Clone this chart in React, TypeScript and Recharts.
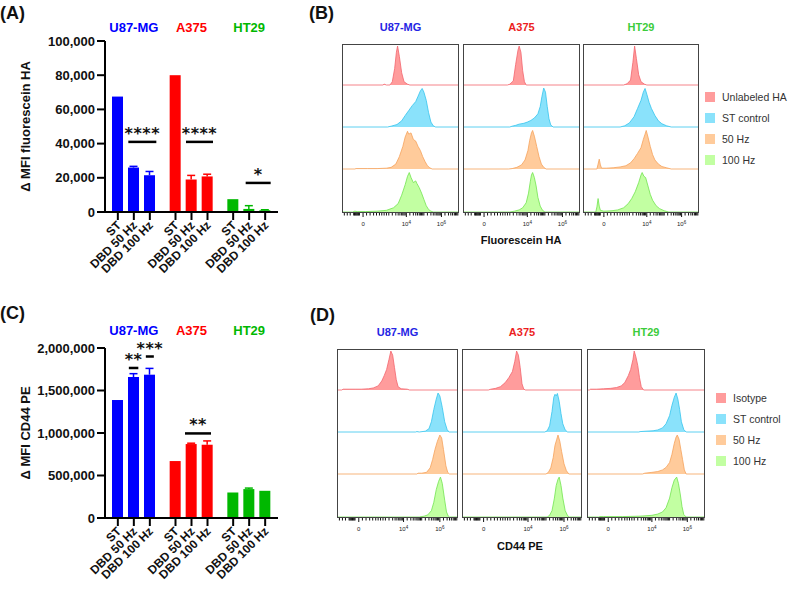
import React from 'react';
import { Area, AreaChart, Bar, BarChart, ReferenceLine, XAxis, YAxis } from 'recharts';

const FONT = '"Liberation Sans", Arial, sans-serif';

const CELL_LINES = ['U87-MG', 'A375', 'HT29'];
const TREATMENTS = ['ST', 'DBD 50 Hz', 'DBD 100 Hz'];

// (A) Δ MFI fluorescein HA
const HA_ST = [67500, 80000, 7500];
const HA_50 = [26000, 19000, 1800];
const HA_100 = [21500, 20800, 1000];
const HA_ST_ERR = [0, 0, 0];
const HA_50_ERR = [700, 2400, 1900];
const HA_100_ERR = [2200, 1300, 300];
const HA_TICKS = [0, 20000, 40000, 60000, 80000, 100000];

// (C) Δ MFI CD44 PE
const CD44_ST = [1388000, 670000, 300000];
const CD44_50 = [1659000, 870000, 340000];
const CD44_100 = [1686000, 862000, 320000];
const CD44_ST_ERR = [0, 0, 0];
const CD44_50_ERR = [39000, 10000, 12000];
const CD44_100_ERR = [74000, 45000, 5000];
const CD44_TICKS = [0, 500000, 1000000, 1500000, 2000000];

type Sig = { line: string; y: number; from: number; to: number; text: string };
const HA_SIG: Sig[] = [
  { line: 'U87-MG', y: 41000, from: -5.5, to: 22.5, text: '****' },
  { line: 'A375', y: 41000, from: -5.5, to: 21.5, text: '****' },
  { line: 'HT29', y: 17000, from: -3.5, to: 21.5, text: '*' },
];
const CD44_SIG: Sig[] = [
  { line: 'U87-MG', y: 1765000, from: -5, to: 4.5, text: '**' },
  { line: 'U87-MG', y: 1900000, from: 12, to: 20, text: '***' },
  { line: 'A375', y: 995000, from: -6.5, to: 19.5, text: '**' },
];

// flow histograms: [channel, % of row height]
const HA_U87 = [
  [[0, 0], [35, 0], [36, 2], [38, 0], [41, 0], [43, 8], [45, 40], [46.5, 80], [47.5, 95], [49, 70], [51, 30], [53, 8], [56, 2], [58, 0], [100, 0]],
  [[0, 0], [39, 0], [42, 2], [47, 6], [51, 15], [54, 28], [57, 40], [60, 52], [63, 62], [65, 75], [67, 88], [68.5, 94], [70, 85], [72, 65], [74, 35], [76, 12], [78, 3], [80, 0], [100, 0]],
  [[0, 0], [11, 0], [12, 1], [22, 1], [30, 1], [38, 2], [42, 4], [46, 12], [49, 30], [52, 55], [54, 78], [56, 92], [57, 85], [59, 88], [61, 72], [63, 68], [65, 55], [67, 45], [69, 30], [71, 18], [73, 8], [75, 3], [77, 0], [100, 0]],
  [[0, 0], [9, 0], [11, 2], [13, 1], [20, 1], [30, 2], [38, 4], [44, 10], [48, 20], [51, 40], [54, 65], [56, 85], [57.5, 94], [59, 82], [61, 70], [63, 74], [64, 68], [66, 58], [68, 45], [70, 30], [72, 15], [74, 6], [76, 2], [78, 0], [100, 0]],
];
const HA_A375 = [
  [[0, 0], [38, 0], [40, 2], [43, 10], [45, 50], [47, 85], [48, 95], [49.5, 80], [51, 35], [52.5, 8], [54, 0], [100, 0]],
  [[0, 0], [40, 0], [42, 2], [45, 4], [48, 7], [52, 9], [55, 12], [58, 16], [61, 22], [64, 32], [66, 50], [67.5, 75], [69, 95], [70.5, 85], [72, 50], [73.5, 20], [75, 5], [77, 0], [100, 0]],
  [[0, 0], [39, 0], [42, 1], [46, 4], [50, 10], [53, 22], [55.5, 45], [57, 70], [58.5, 88], [59.5, 94], [61, 80], [63, 55], [65, 30], [67, 12], [69, 4], [71, 0], [100, 0]],
  [[0, 0], [40, 0], [44, 2], [48, 5], [51, 10], [54, 22], [56, 45], [57.5, 72], [58.5, 88], [59.5, 94], [61, 82], [62.5, 62], [64, 35], [66, 14], [68, 4], [70, 0], [100, 0]],
];
const HA_HT29 = [
  [[0, 0], [35, 0], [38, 3], [41, 12], [43, 55], [44.5, 95], [46, 65], [48, 25], [50, 8], [53, 2], [55, 0], [100, 0]],
  [[0, 0], [32, 0], [36, 3], [40, 10], [44, 25], [47, 45], [50, 65], [52, 85], [53.5, 94], [55, 80], [57, 60], [59, 45], [62, 28], [65, 15], [68, 8], [72, 3], [76, 0], [100, 0]],
  [[0, 0], [12, 0], [13, 12], [14, 24], [15, 10], [16, 2], [20, 2], [26, 3], [32, 5], [37, 8], [41, 15], [44, 25], [47, 38], [50, 52], [52, 72], [53.5, 85], [54.5, 94], [56, 78], [58, 55], [60, 35], [62, 22], [65, 12], [68, 6], [72, 3], [76, 0], [100, 0]],
  [[0, 0], [11, 0], [12, 12], [13, 32], [14, 14], [15, 4], [18, 2], [25, 3], [30, 5], [35, 10], [39, 20], [42, 32], [45, 48], [48, 70], [50, 88], [51, 94], [52.5, 85], [54, 82], [56, 62], [58, 42], [60, 28], [63, 15], [66, 8], [70, 3], [74, 0], [100, 0]],
];
const CD44_U87 = [
  [[0, 0], [4, 0], [5, 2], [10, 2], [15, 2], [20, 2], [26, 3], [30, 5], [34, 10], [37, 22], [39, 35], [41, 50], [43, 75], [44.5, 95], [46, 85], [47.5, 55], [49, 25], [50.5, 8], [53, 3], [58, 2], [60, 0], [100, 0]],
  [[0, 0], [65, 0], [66, 1], [68, 0], [73, 2], [76, 8], [78, 25], [80, 55], [82, 80], [83.5, 95], [85, 88], [87, 60], [89, 25], [91, 6], [92.5, 0], [100, 0]],
  [[0, 0], [66, 0], [67, 2], [70, 2], [74, 4], [77, 15], [79, 35], [81, 60], [83, 80], [85, 95], [86.5, 88], [88, 60], [90, 20], [91.5, 4], [93, 0], [100, 0]],
  [[0, 0], [68, 0], [72, 2], [75, 5], [78, 15], [80, 35], [82, 65], [84, 85], [85.5, 95], [87, 80], [89, 40], [90.5, 12], [92, 2], [93, 0], [100, 0]],
];
const CD44_A375 = [
  [[0, 0], [22, 0], [24, 2], [28, 4], [32, 8], [36, 18], [39, 30], [42, 45], [44, 70], [45.5, 95], [47, 85], [48.5, 55], [50, 15], [51.5, 2], [53, 0], [100, 0]],
  [[0, 0], [69, 0], [71, 3], [73, 15], [75, 50], [76.5, 85], [77.5, 92], [78.5, 88], [79.5, 94], [81, 75], [82.5, 45], [84, 20], [86, 5], [88, 0], [100, 0]],
  [[0, 0], [70, 0], [72, 4], [74, 15], [76, 40], [77.5, 70], [79, 85], [80, 95], [81.5, 80], [83, 55], [85, 25], [87, 8], [89, 0], [100, 0]],
  [[0, 0], [71, 0], [73, 4], [75, 15], [77, 45], [78.5, 75], [80, 90], [81, 95], [82.5, 75], [84, 45], [86, 15], [88, 3], [89.5, 0], [100, 0]],
];
const CD44_HT29 = [
  [[0, 0], [2, 0], [3, 2], [8, 2], [14, 3], [20, 4], [25, 6], [29, 10], [32, 18], [35, 35], [37, 50], [39, 75], [40, 95], [41.5, 80], [43, 60], [44.5, 30], [46, 8], [48, 0], [100, 0]],
  [[0, 0], [44, 0], [45, 1], [50, 2], [56, 3], [60, 5], [64, 10], [67, 20], [70, 40], [72, 65], [74, 85], [75.5, 95], [77, 80], [78.5, 55], [80, 25], [82, 6], [84, 0], [100, 0]],
  [[0, 0], [47, 0], [49, 2], [55, 4], [60, 6], [64, 10], [67, 16], [70, 28], [72, 48], [74, 75], [75.5, 90], [76.5, 95], [78, 85], [79.5, 60], [81, 35], [82.5, 10], [84, 0], [100, 0]],
  [[0, 0], [10, 0], [11, 1], [14, 1], [30, 1], [45, 2], [55, 4], [60, 7], [64, 12], [67, 22], [70, 45], [72, 70], [74, 88], [76, 95], [77.5, 80], [79, 55], [80.5, 25], [82, 6], [84, 0], [100, 0]],
];

const HA_LEGEND = ['Unlabeled HA', 'ST control', '50 Hz', '100 Hz'];
const CD44_LEGEND = ['Isotype', 'ST control', '50 Hz', '100 Hz'];

const HIST_MINOR = [2, 4.5, 7, 10, 10.7, 11.4, 12.1, 12.8, 13.5, 14.2, 14.9, 21, 24, 27, 29.5, 32, 34, 36, 38, 40, 43, 46, 48, 49.5, 51, 52, 53, 54,
  58, 61, 63, 64.5, 66, 67, 68, 69, 70, 73, 76, 78, 79.5, 81, 82, 83, 84, 88, 91, 93, 94.5, 96, 97, 98, 99];
const HIST_MAJOR = [18, 55, 85];
const HIST_MAJOR_BASE = ['0', '10', '10'];
const HIST_MAJOR_EXP = ['', '4', '6'];

const LINE_COLORS: Record<string, string> = { 'U87-MG': '#0000ff', A375: '#ff0000', HT29: '#00b800' };
const TITLE_COLORS: Record<string, string> = { 'U87-MG': '#2424e4', A375: '#ec1e1e', HT29: '#3ccc3c' };
const HIST_COLORS = [
  { fill: '#ff9c9c', stroke: '#f2656d' },
  { fill: '#8ae2fb', stroke: '#35c4ee' },
  { fill: '#ffcb9b', stroke: '#f5a25c' },
  { fill: '#c2ffa2', stroke: '#72e350' },
];

const BAR_STEP = 16;

function barShape(valueKey: string, errKey: string) {
  return (props: any) => {
    const { x, y, width, height, payload } = props;
    const color = LINE_COLORS[payload.name];
    const value = payload[valueKey];
    const err = payload[errKey];
    const errPx = value ? (height * err) / value : 0;
    const cx = x + width / 2;
    return (
      <g>
        <rect x={x} y={y} width={width} height={height} fill={color} />
        {errPx > 0.5 && (
          <g stroke={color} strokeWidth={1.5}>
            <line x1={cx} x2={cx} y1={y} y2={y - errPx} />
            <line x1={cx - 4} x2={cx + 4} y1={y - errPx} y2={y - errPx} />
          </g>
        )}
      </g>
    );
  };
}

function sigShape(s: Sig) {
  return (p: any) => {
    const x1 = p.x1 + s.from;
    const x2 = p.x1 + s.to;
    const y = p.y1;
    return (
      <g>
        <line x1={x1} x2={x2} y1={y} y2={y} stroke="#000" strokeWidth={2.5} />
        <text x={(x1 + x2) / 2} y={y - 3} textAnchor="middle" fontFamily="DejaVu Sans" fontWeight={700}
          fontSize={16} letterSpacing={0.5} fill="#111">{s.text}</text>
      </g>
    );
  };
}

function catTick(titleDy: number) {
  return (p: any) => {
    const name = p.payload.value;
    return (
      <g>
        {TREATMENTS.map((t, k) => {
          const cx = p.x + (k - 1) * BAR_STEP;
          const tx = cx + 4;
          const ty = p.y + 14;
          return (
            <g key={t}>
              <line x1={cx} x2={cx} y1={p.y} y2={p.y + 8} stroke="#000" strokeWidth={2} />
              <text x={tx} y={ty} transform={`rotate(-45 ${tx} ${ty})`} textAnchor="end" fontFamily={FONT}
                fontWeight={700} fontSize={12} fill="#111">{t}</text>
            </g>
          );
        })}
        <text x={p.x} y={p.y - titleDy} textAnchor="middle" fontFamily={FONT} fontWeight={700} fontSize={13}
          fill={LINE_COLORS[name]}>{name}</text>
      </g>
    );
  };
}

type PanelProps = {
  top: number; height: number; plotTop: number; plotBottom: number; titleDy: number;
  st: number[]; d50: number[]; d100: number[]; stErr: number[]; d50Err: number[]; d100Err: number[];
  ticks: number[]; yTitle: string; sigs: Sig[];
};

function MfiPanel(props: PanelProps) {
  const { top, height, plotTop, plotBottom, titleDy, ticks, yTitle, sigs } = props;
  const data = CELL_LINES.map((name, i) => ({
    name,
    st: props.st[i], d50: props.d50[i], d100: props.d100[i],
    stErr: props.stErr[i], d50Err: props.d50Err[i], d100Err: props.d100Err[i],
  }));
  return (
    <div style={{ position: 'absolute', left: 0, top }}>
      <BarChart width={290} height={height} data={data} barSize={11} barGap={5}
        margin={{ top: plotTop, right: 12, left: 0, bottom: 0 }}>
        <XAxis dataKey="name" height={height - plotBottom} tickSize={0} tickMargin={0} tickLine={false}
          axisLine={{ stroke: '#000', strokeWidth: 2 }} interval={0} tick={catTick(titleDy)} />
        <YAxis width={105} domain={[0, ticks[ticks.length - 1]]} ticks={ticks} interval={0} tickSize={8} tickMargin={2}
          tickFormatter={(v: number) => v.toLocaleString('en-US')}
          tick={{ fill: '#111', fontSize: 13, fontWeight: 700, fontFamily: FONT }}
          tickLine={{ stroke: '#000', strokeWidth: 2 }} axisLine={{ stroke: '#000', strokeWidth: 2 }}
          label={{ value: yTitle, angle: -90, position: 'insideLeft', offset: 25,
            style: { textAnchor: 'middle', fontWeight: 700, fontSize: 13, fill: '#111', fontFamily: FONT } }} />
        <Bar dataKey="st" shape={barShape('st', 'stErr')} isAnimationActive={false} />
        <Bar dataKey="d50" shape={barShape('d50', 'd50Err')} isAnimationActive={false} />
        <Bar dataKey="d100" shape={barShape('d100', 'd100Err')} isAnimationActive={false} />
        {sigs.map((s, i) => (
          <ReferenceLine key={i} segment={[{ x: s.line, y: s.y }, { x: s.line, y: s.y }]} shape={sigShape(s)} />
        ))}
      </BarChart>
    </div>
  );
}

const histTick = (p: any) => {
  const v = p.payload.value;
  const m = HIST_MAJOR.indexOf(v);
  return (
    <g>
      <line x1={p.x} x2={p.x} y1={p.y + 1} y2={p.y + (m >= 0 ? 5 : 3.5)} stroke="#111" strokeWidth={1} />
      {m >= 0 && (
        <text x={p.x} y={p.y + 14} textAnchor="middle" fontFamily={FONT} fontSize={6} fill="#222">
          {HIST_MAJOR_BASE[m]}
          {HIST_MAJOR_EXP[m] && <tspan dy={-2.5} fontSize={4.5}>{HIST_MAJOR_EXP[m]}</tspan>}
        </text>
      )}
    </g>
  );
};

const HIST_TICKS = [...HIST_MINOR, ...HIST_MAJOR].sort((a, b) => a - b);

function HistBox({ left, top, width, rows, title }: { left: number; top: number; width: number; rows: number[][][]; title: string }) {
  const rowH = 42;
  return (
    <>
      <div style={{ position: 'absolute', left: left + width / 2 - 60, width: 120, top: top - 22, textAlign: 'center',
        fontFamily: FONT, fontWeight: 700, fontSize: 11, lineHeight: '11px', color: TITLE_COLORS[title] }}>{title}</div>
      {rows.map((pts, i) => {
        const last = i === rows.length - 1;
        return (
          <div key={i} style={{ position: 'absolute', left, top: top + i * rowH }}>
            <AreaChart width={width} height={rowH + (last ? 24 : 0)} data={pts.map(([x, y]) => ({ x, y }))}
              margin={{ top: 0, right: 0, left: 0, bottom: last ? 0 : 1 }}>
              <XAxis type="number" dataKey="x" domain={[0, 100]} hide={!last} ticks={HIST_TICKS} interval={0}
                tickLine={false} axisLine={false} tickSize={0} tickMargin={0} height={24} tick={histTick} />
              <YAxis hide domain={[0, 100]} />
              <Area type="linear" dataKey="y" stroke={HIST_COLORS[i].stroke} strokeWidth={0.8} fill={HIST_COLORS[i].fill}
                fillOpacity={1} dot={false} activeDot={false} isAnimationActive={false} />
            </AreaChart>
          </div>
        );
      })}
      <div style={{ position: 'absolute', left, top, width, height: rowH * rows.length + 1, boxSizing: 'border-box',
        border: '1px solid #444', pointerEvents: 'none' }} />
    </>
  );
}

function HistLegend({ left, top, labels }: { left: number; top: number; labels: string[] }) {
  return (
    <div style={{ position: 'absolute', left, top, fontFamily: FONT, whiteSpace: 'nowrap' }}>
      {labels.map((l, i) => (
        <div key={l} style={{ display: 'flex', alignItems: 'center', height: 21 }}>
          <span style={{ display: 'inline-block', width: 10, height: 10, background: HIST_COLORS[i].fill, marginRight: 7 }} />
          <span style={{ fontSize: 10.5, color: '#333' }}>{l}</span>
        </div>
      ))}
    </div>
  );
}

function PanelTag({ left, top, text }: { left: number; top: number; text: string }) {
  return (
    <div style={{ position: 'absolute', left, top, fontFamily: FONT, fontWeight: 700, fontSize: 18, lineHeight: '18px', color: '#111' }}>
      {text}
    </div>
  );
}

function AxisTitle({ cx, cy, text }: { cx: number; cy: number; text: string }) {
  return (
    <div style={{ position: 'absolute', left: cx - 80, width: 160, top: cy - 6, textAlign: 'center', fontFamily: FONT,
      fontWeight: 700, fontSize: 11, lineHeight: '12px', color: '#111' }}>{text}</div>
  );
}

export default function App() {
  return (
    <div style={{ position: 'absolute', left: 0, top: 0, width: 789, height: 589, background: '#fff', overflow: 'hidden' }}>
      <PanelTag left={0} top={4} text="(A)" />
      <PanelTag left={309} top={4} text="(B)" />
      <PanelTag left={0} top={304} text="(C)" />
      <PanelTag left={310} top={306} text="(D)" />

      <MfiPanel top={0} height={290} plotTop={41} plotBottom={212} titleDy={180}
        st={HA_ST} d50={HA_50} d100={HA_100} stErr={HA_ST_ERR} d50Err={HA_50_ERR} d100Err={HA_100_ERR}
        ticks={HA_TICKS} yTitle="Δ MFI fluorescein HA" sigs={HA_SIG} />
      <MfiPanel top={300} height={289} plotTop={48} plotBottom={218} titleDy={183}
        st={CD44_ST} d50={CD44_50} d100={CD44_100} stErr={CD44_ST_ERR} d50Err={CD44_50_ERR} d100Err={CD44_100_ERR}
        ticks={CD44_TICKS} yTitle="Δ MFI CD44  PE" sigs={CD44_SIG} />

      <HistBox left={342} top={44} width={117} rows={HA_U87} title="U87-MG" />
      <HistBox left={463} top={44} width={117} rows={HA_A375} title="A375" />
      <HistBox left={583} top={44} width={116} rows={HA_HT29} title="HT29" />
      <AxisTitle cx={521} cy={240} text="Fluorescein HA" />
      <HistLegend left={705} top={86} labels={HA_LEGEND} />

      <HistBox left={337} top={349} width={121} rows={CD44_U87} title="U87-MG" />
      <HistBox left={462} top={349} width={120} rows={CD44_A375} title="A375" />
      <HistBox left={587} top={349} width={118} rows={CD44_HT29} title="HT29" />
      <AxisTitle cx={520} cy={546} text="CD44 PE" />
      <HistLegend left={716} top={387} labels={CD44_LEGEND} />
    </div>
  );
}
